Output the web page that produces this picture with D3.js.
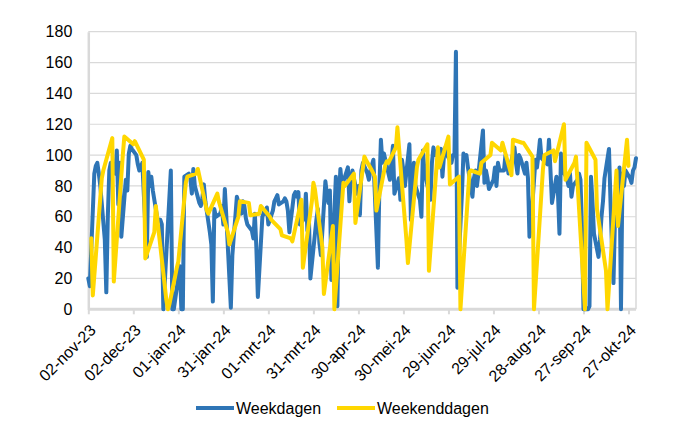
<!DOCTYPE html>
<html><head><meta charset="utf-8">
<script src="https://cdn.jsdelivr.net/npm/d3@7"></script>
<style>body{margin:0;background:#fff}svg{display:block}</style>
</head><body><svg id="c" width="700" height="431"></svg>
<script>
// ---------- DATA ----------
const startDate = "2023-11-02";
const endDate = "2024-11-01";
const holidays = ["2023-12-25","2023-12-26","2024-01-01","2024-04-01","2024-05-09","2024-05-20"];
const seriesNames = ["Weekdagen","Weekenddagen"];
const yTicks = [0,20,40,60,80,100,120,140,160,180];
const tickLabels = ["02-nov-23","02-dec-23","01-jan-24","31-jan-24","01-mrt-24","31-mrt-24","30-apr-24","30-mei-24","29-jun-24","29-jul-24","28-aug-24","27-sep-24","27-okt-24"];

// values on working days (Mon-Fri, holidays excluded), in date order, one line per week
const weekdagen = [
 20,15,
 88,93,95,88,80,
 45,11,60,90,95,
 88,103,68,95,47,
 84,77,101,106,104,
 100,94,90,92,95,
 34,89,80,86,77,
 59,58,58,55,0,
 90,0,0,
 28,0,0,86,
 88,85,75,91,80,
 69,67,72,81,70,
 50,42,5,65,60,
 62,67,55,78,60,
 1,35,48,60,73,
 62,70,67,59,55,
 51,46,62,40,8,
 60,63,62,66,55,
 64,70,72,74,68,
 70,72,70,64,50,
 74,76,73,76,55,
 59,75,51,60,20,
 58,65,43,35,
 83,75,69,77,19,
 86,2,71,91,80,
 89,92,70,84,90,
 75,80,61,90,95,
 88,84,90,97,
 27,80,110,95,101,
 84,95,106,75,
 85,71,97,90,80,
 107,58,85,95,80,
 71,60,103,90,85,
 71,95,105,100,100,
 104,86,99,105,100,
 95,100,100,167,14,
 75,101,98,100,92,
 73,85,90,80,88,
 116,82,90,85,78,
 84,92,80,95,90,
 90,100,95,88,92,
 105,95,88,100,98,
 88,95,85,47,55,
 97,92,100,110,98,
 95,94,110,90,69,
 86,75,49,101,90,
 85,80,88,73,80,
 84,88,84,52,0,
 0,2,86,70,49,
 34,45,60,70,85,
 104,70,40,17,60,
 92,0,88,80,90,
 85,82,90,92,98
];

// values on Saturdays, Sundays and public holidays, in date order
const weekenddagen = [
 46,9, 85,90, 111,18, 100,112, 107,109, 97,33, 50,67,
 15,6,0,3, 22,27,31,
 82,86, 88,91, 64,62, 75,70, 50,42, 60,70, 69,61, 62,67,
 60,58, 52,48, 46,44, 71,27,
 70,82,78,
 40,10, 54,0, 82,80, 88,56, 99,97,
 90,
 86,64,
 94,96,95,
 105,118, 45,30, 92,97, 107,25, 105,92, 112,81, 86,0,
 89,90, 88,95, 100,108, 103,108, 87,110, 108,108, 99,0,
 91,100, 103,96, 120,84, 95,99, 0,108, 97,65, 25,0,
 90,54, 110,93
];

// ---------- CHART ----------
const parse = d3.utcParse("%Y-%m-%d");
const start = parse(startDate), end = parse(endDate);
const holidaySet = new Set(holidays);
const fmt = d3.utcFormat("%Y-%m-%d");
const allDays = d3.utcDay.range(start, d3.utcDay.offset(end, 1));
const wdDates = [], weDates = [];
allDays.forEach(d => {
  const dow = d.getUTCDay();
  if (dow === 0 || dow === 6 || holidaySet.has(fmt(d))) weDates.push(d); else wdDates.push(d);
});
const wdData = weekdagen.map((v,i) => ({date: wdDates[i], value: v})).filter(d => d.date);
const weData = weekenddagen.map((v,i) => ({date: weDates[i], value: v})).filter(d => d.date);

const pL = 88.3, pR = 636, pT = 31.7, pB = 309.3;
const x = d3.scaleUtc().domain([start, end]).range([pL, pR]);
const y = d3.scaleLinear().domain([0,180]).range([pB, pT]);

const svg = d3.select("#c");
const font = "'Liberation Sans', Arial, sans-serif";
const grid = "#d9d9d9";

// gridlines
svg.append("g").selectAll("line").data(yTicks.filter(t => t > 0)).join("line")
  .attr("x1", pL).attr("x2", pR)
  .attr("y1", d => y(d)).attr("y2", d => y(d))
  .attr("stroke", grid).attr("stroke-width", 1.2);
// right frame
svg.append("line").attr("x1", pR).attr("x2", pR).attr("y1", pT).attr("y2", pB)
  .attr("stroke", grid).attr("stroke-width", 1.5);

// y axis
const yAxis = d3.axisLeft(y).tickValues(yTicks).tickSize(0).tickPadding(16);
const gy = svg.append("g").attr("transform", `translate(${pL},0)`).call(yAxis);
gy.select(".domain").attr("stroke", grid).attr("stroke-width", 2.5);
gy.selectAll("text").attr("font-family", font).attr("font-size", 16).attr("fill", "#000");

// x axis
const tickDates = tickLabels.map((l,i) => d3.utcDay.offset(start, 30*i));
const xAxis = d3.axisBottom(x).tickValues(tickDates).tickSize(5).tickFormat((d,i) => tickLabels[i]);
const gx = svg.append("g").attr("transform", `translate(0,${pB})`).call(xAxis);
gx.select(".domain").attr("stroke", grid).attr("stroke-width", 3).attr("d", `M${pL},0H${pR}`);
gx.selectAll(".tick line").attr("stroke", grid).attr("stroke-width", 2);
gx.selectAll("text")
  .attr("font-family", font).attr("font-size", 16).attr("fill", "#000")
  .attr("text-anchor", "end")
  .attr("dy", "0.35em").attr("y", 0)
  .attr("transform", "translate(4,18) rotate(-45)");

// lines
const line = d3.line().x(d => x(d.date)).y(d => y(d.value));
svg.append("path").datum(wdData).attr("d", line)
  .attr("fill", "none").attr("stroke", "#2e75b6").attr("stroke-width", 4)
  .attr("stroke-linejoin", "round").attr("stroke-linecap", "round");
svg.append("path").datum(weData).attr("d", line)
  .attr("fill", "none").attr("stroke", "#ffd700").attr("stroke-width", 4)
  .attr("stroke-linejoin", "round").attr("stroke-linecap", "round");

// legend
const legend = [
  {name: seriesNames[0], color: "#2e75b6", x0: 196},
  {name: seriesNames[1], color: "#ffd700", x0: 337}
];
const lg = svg.append("g");
legend.forEach(l => {
  lg.append("line").attr("x1", l.x0).attr("x2", l.x0 + 38).attr("y1", 408).attr("y2", 408)
    .attr("stroke", l.color).attr("stroke-width", 4);
  lg.append("text").attr("x", l.x0 + 40).attr("y", 414).text(l.name)
    .attr("font-family", font).attr("font-size", 16).attr("fill", "#000");
});
</script>
</body></html>
